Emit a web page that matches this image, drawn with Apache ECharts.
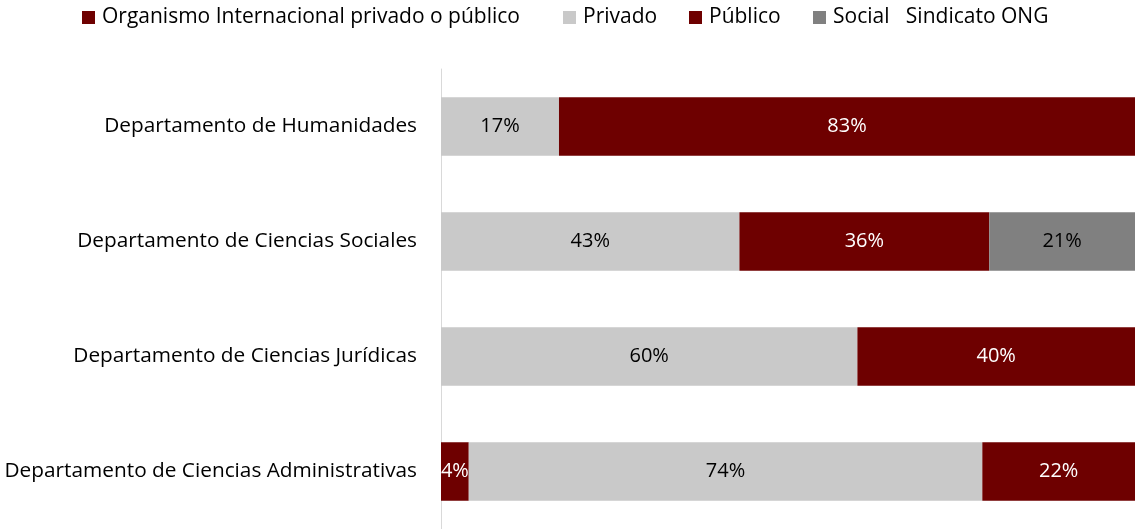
<!DOCTYPE html>
<html>
<head>
<meta charset="utf-8">
<script src="https://cdn.jsdelivr.net/npm/echarts@6/dist/echarts.min.js"></script>
<style>
  html, body { margin: 0; padding: 0; background: #fff; }
  #chart { width: 1135px; height: 529px; }
</style>
</head>
<body>
<div id="chart"></div>
<script>
// Departments, listed bottom to top for the category axis
const departments = [
  'Departamento de Ciencias Administrativas',
  'Departamento de Ciencias Jurídicas',
  'Departamento de Ciencias Sociales',
  'Departamento de Humanidades'
];
const seriesNames = [
  'Organismo Internacional privado o público',
  'Privado',
  'Público',
  'Social   Sindicato ONG'
];
// Share of each sector per department (%), same order as departments
const organismo = [4, null, null, null];
const privado   = [74, 60, 43, 17];
const publico   = [22, 40, 36, 83];
const social    = [null, null, 21, null];

const colors = ['#6E0000', '#C9C9C9', '#6E0000', '#808080'];
const labelColors = ['#ffffff', '#000000', '#ffffff', '#000000'];
const values = [organismo, privado, publico, social];
const legendLeft = [82, 563, 689, 813];
const FONT = '"Open Sans", sans-serif';

const chart = echarts.init(document.getElementById('chart'), null, { renderer: 'canvas' });

chart.setOption({
  animation: false,
  color: colors,
  textStyle: { fontFamily: FONT },
  // one legend block per entry so each sits at its own spot in the row
  legend: seriesNames.map((name, i) => ({
    top: 7,
    left: legendLeft[i],
    icon: 'rect',
    itemWidth: 13,
    itemHeight: 13,
    padding: 0,
    textStyle: { fontFamily: FONT, fontSize: 21, color: '#000', padding: [0, 0, 0, 2] },
    data: [name]
  })),
  grid: { left: 441, right: 0, top: 69, bottom: 0, containLabel: false },
  xAxis: {
    type: 'value',
    min: 0,
    max: 100,
    show: false
  },
  yAxis: {
    type: 'category',
    data: departments,
    axisLine: { show: true, lineStyle: { color: '#D9D9D9', width: 1 } },
    axisTick: { show: false },
    axisLabel: { fontFamily: FONT, fontSize: 20.8, color: '#000', margin: 24 }
  },
  series: seriesNames.map((name, i) => ({
    name: name,
    type: 'bar',
    stack: 'total',
    barWidth: '51%',
    data: values[i],
    itemStyle: { color: colors[i] },
    label: {
      show: true,
      position: 'inside',
      formatter: p => p.value == null ? '' : p.value + '%',
      fontFamily: FONT,
      fontSize: 20,
      color: labelColors[i]
    }
  }))
});
</script>
</body>
</html>
